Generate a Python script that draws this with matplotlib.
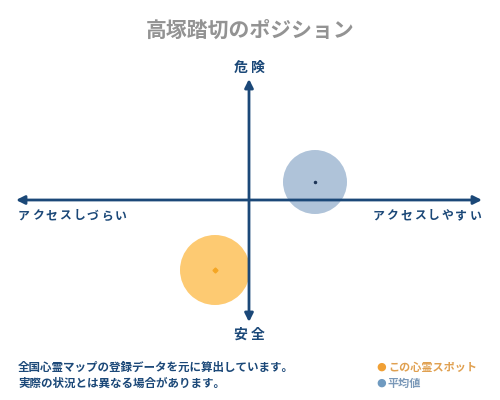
import matplotlib
matplotlib.use("Agg")
import matplotlib.pyplot as plt
from matplotlib.patches import Circle

plt.rcParams['font.family'] = ['Noto Sans CJK JP', 'DejaVu Sans']

# positions in pixel-like units, origin at the axes crossing (up = danger)
names = ["この心霊スポット", "平均値"]
x_vals = [-34, 66]
y_vals = [-70, 18]
radius = [35, 32]
fill_colors = ["#fdca72", "#afc3d9"]
dot_colors = ["#f5a623", "#1d3557"]
text_colors = ["#e0a050", "#7a98b8"]
legend_dots = ["#f0a035", "#6f9ac0"]

title = "高塚踏切のポジション"
top_label, bottom_label = "危 険", "安 全"
left_label, right_label = "アクセスしづらい", "アクセスしやすい"
notes = ["全国心霊マップの登録データを元に算出しています。",
         "実際の状況とは異なる場合があります。"]

axis_color = "#1b4878"


def spaced_text(ax, x0, y, s, step, **kw):
    # lay out characters one by one with a fixed step (letter spacing)
    for i, ch in enumerate(s):
        ax.text(x0 + step * (i + 0.5), y, ch, ha="center", va="center", **kw)


fig = plt.figure(figsize=(5, 4), dpi=100)
ax = fig.add_axes([0, 0, 1, 1])
ax.set_xlim(-249, 251)
ax.set_ylim(-200, 200)
ax.axis("off")

# quadrant arrows
arrow = dict(arrowstyle="-|>,head_length=0.5,head_width=0.25", color=axis_color,
             lw=2, shrinkA=0, shrinkB=0)
ax.annotate("", xy=(-233, 0), xytext=(0, 0), arrowprops=arrow)
ax.annotate("", xy=(233, 0), xytext=(0, 0), arrowprops=arrow)
ax.annotate("", xy=(0, 121), xytext=(0, 0), arrowprops=arrow)
ax.annotate("", xy=(0, -122), xytext=(0, 0), arrowprops=arrow)

for i, (x, y, r, fc, dc) in enumerate(zip(x_vals, y_vals, radius, fill_colors, dot_colors)):
    ax.add_patch(Circle((x, y), r, facecolor=fc, edgecolor="none", zorder=1))
    ax.plot(x, y, marker="D" if i == 0 else "o", ms=2.5 if i == 0 else 1.5,
            color=dc, zorder=3)

# axis labels
ax.text(0, 132, top_label, ha="center", va="center", fontsize=10,
        color=axis_color, fontweight="bold")
ax.text(0, -135, bottom_label, ha="center", va="center", fontsize=10,
        color=axis_color, fontweight="bold")
spaced_text(ax, -232, -16, left_label, 13.8, fontsize=8.5,
            color=axis_color, fontweight="bold")
spaced_text(ax, 233 - 13.8 * len(right_label), -16, right_label, 13.8,
            fontsize=8.5, color=axis_color, fontweight="bold")

fig.text(0.5, 1 - 30 / 400, title, ha="center", va="center", fontsize=15,
         color="#939393", fontweight="bold")

for i, line in enumerate(notes):
    fig.text(18 / 500, 1 - (367 + 16 * i) / 400, line, ha="left", va="center",
             fontsize=8.3, color=axis_color, fontweight="bold")

for i, (name, tc, lc) in enumerate(zip(names, text_colors, legend_dots)):
    yy = 1 - (367 + 16 * i) / 400
    fig.text(381 / 500, yy, "●", ha="center", va="center", fontsize=8,
             color=lc, family="DejaVu Sans")
    fig.text(388 / 500, yy, name, ha="left", va="center", fontsize=8,
             color=tc, fontweight="bold")

fig.savefig("out.png", dpi=100, facecolor="white")
